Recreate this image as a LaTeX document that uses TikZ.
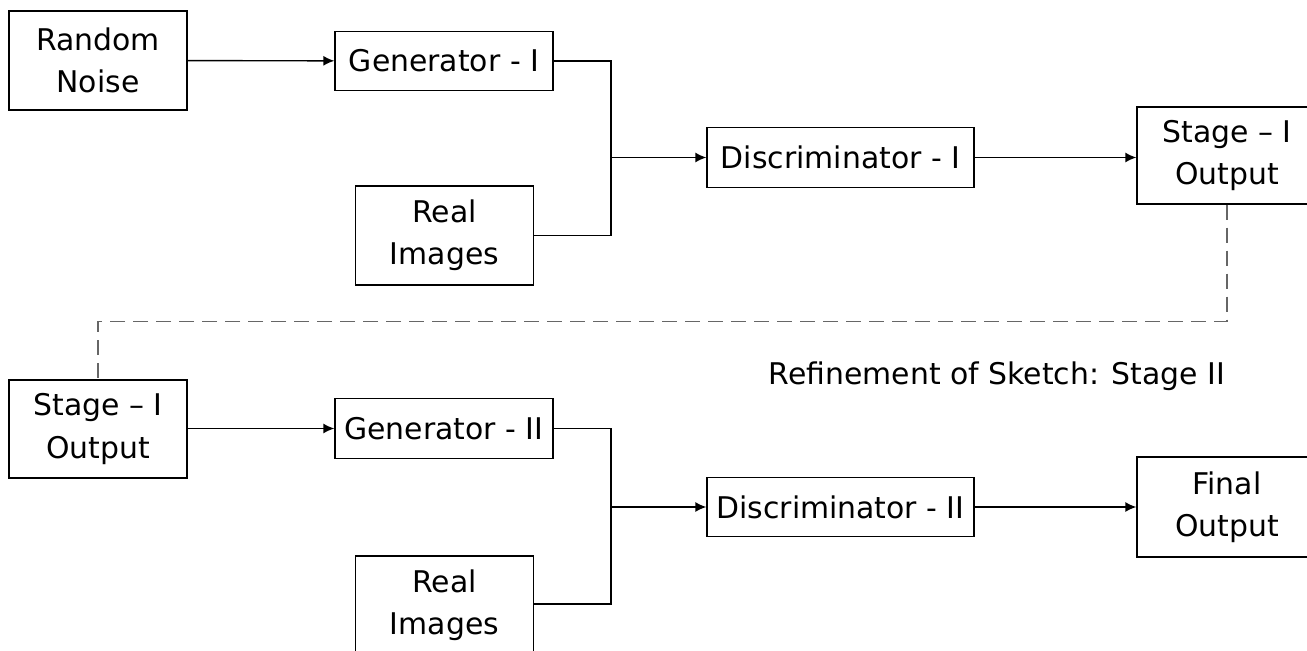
\documentclass[tikz,border=0pt]{standalone}
\usepackage{fontspec}
\setmainfont{DejaVu Sans}
\usetikzlibrary{arrows.meta}
\begin{document}
\begin{tikzpicture}
    [x=0.02cm,y=-0.02cm,line width=0.8pt,
     box/.style={draw,align=center,inner sep=0pt,font=\fontsize{17}{24}\selectfont},
     tall/.style={box,minimum width=3.56cm,minimum height=1.98cm},
     flat/.style={box,minimum height=1.19cm},
     link/.style={-{Latex[length=2.2mm,width=2mm]}},
     jump/.style={dashed,draw=black!60,dash pattern=on 3mm off 1.6mm}]
    \useasboundingbox (0,0) rectangle (1307,651);
    \clip (0,0) rectangle (1307,651);
    \fill [white] (0,0) rectangle (1307,651);
    % stage one
    \node (noise) at (98, 60.5) [tall] {Random\\Noise};
    \node (gen1) at (444, 61) [flat,minimum width=4.36cm] {Generator - I};
    \node (real1) at (444.5, 235.5) [tall] {Real\\Images};
    \node (disc1) at (840.5, 157.5) [flat,minimum width=5.34cm] {Discriminator - I};
    \node (stage1) at (1227, 155.5) [tall,minimum width=3.6cm,minimum height=1.94cm] {Stage -- I\\Output};
    \coordinate (join1) at (611, 157.5);
    \draw [link] (noise) to (gen1);
    \draw (gen1.east) -| (join1);
    \draw (real1.east) -| (join1);
    \draw [link] (join1) to (disc1);
    \draw [link] (disc1) to (stage1.west |- disc1);
    % stage two
    \node (stage1b) at (98, 429) [tall,minimum height=1.96cm] {Stage -- I\\Output};
    \node (gen2) at (444, 428.5) [flat,minimum width=4.36cm] {Generator - II};
    \node (real2) at (444.5, 605.5) [tall] {Real\\Images};
    \node (disc2) at (840.5, 507) [flat,minimum width=5.34cm] {Discriminator - II};
    \node (final) at (1227, 507) [tall,minimum width=3.6cm,minimum height=2cm] {Final\\Output};
    \node (title2) at (997, 376) [font=\fontsize{17}{24}\selectfont] {Refinement of Sketch: Stage II};
    \coordinate (join2) at (611, 507);
    \draw [link] (stage1b.east |- gen2) to (gen2);
    \draw (gen2.east) -| (join2);
    \draw (real2.east |- 0,604) -| (join2);
    \draw [link] (join2) to (disc2);
    \draw [link] (disc2) to (final);
    % carry over
    \draw [jump] (stage1.south) |- (98, 321.5) -- (stage1b.north);
\end{tikzpicture}
\end{document}
